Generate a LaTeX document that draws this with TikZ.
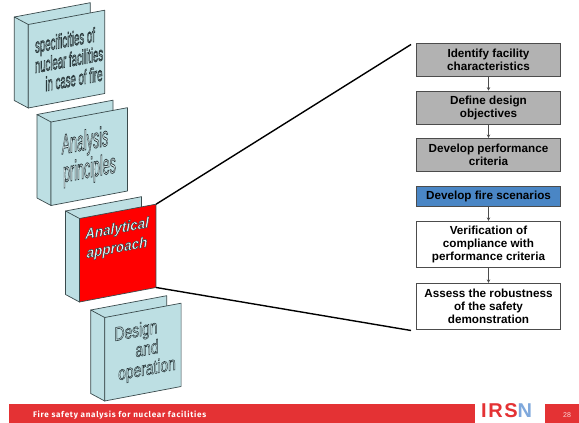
\documentclass[tikz,border=0pt]{standalone}
\usepackage{fontspec}
\usetikzlibrary{arrows.meta}
\setmainfont{Liberation Sans}
\newfontfamily\footfont[LetterSpace=9]{Fira Sans}
\newfontfamily\logofont[LetterSpace=8]{Liberation Sans}
\definecolor{bookfill}{HTML}{BDDFE3}
\definecolor{bookline}{HTML}{3A4A4C}
\definecolor{flowgrey}{HTML}{B2B2B2}
\definecolor{flowblue}{HTML}{4A86C5}
\definecolor{footred}{HTML}{E43234}
\definecolor{irsnblue}{HTML}{7FA8DC}
\newcommand{\outlinetext}[2]{\special{pdf:literal direct 2 Tr #2 w 0.16 0.22 0.23 RG #1 rg}}
\newcommand{\plaintext}{\special{pdf:literal direct 0 Tr}}
\tikzset{
  bookface/.style={draw=bookline,line width=0.7pt,fill=bookfill,line join=round},
  flowbox/.style={draw=black!70,line width=0.8pt,minimum width=143.5pt,inner sep=0pt,align=center,
    font=\fontsize{11.7}{13}\selectfont\bfseries},
  flowarrow/.style={draw=black!70,line width=0.7pt,-{Stealth[length=3.5pt,width=3.5pt]}},
  wordart/.style={align=center,inner sep=0pt,transform shape},
  zoomline/.style={draw=black,line width=1.4pt}
}
\newcommand{\bookshape}[3]{%
  \begin{scope}[shift={(#1,#2)}]
    \path[bookface] (0,0) -- (76,-14.3) -- (76,-2) -- (14,10) -- cycle;
    \path[bookface] (0,0) -- (14,7.5) -- (14,91) -- (0,83.5) -- cycle;
    \path[bookface,fill=#3] (14,7.5) -- (90.4,-6.8) -- (90.4,76.5) -- (14,91) -- cycle;
  \end{scope}}
\begin{document}
\begin{tikzpicture}[x=1pt,y=-1pt]
\useasboundingbox (0,0) rectangle (579,423);
\fill[white] (0,0) rectangle (579,423);
% books
\bookshape{14.3}{17}{bookfill}
\bookshape{37}{114.5}{bookfill}
\bookshape{65.5}{211}{red}
\bookshape{90.7}{310}{bookfill}
% book texts
\node[wordart,cm={1,0.187,0,2.1,(69,59.5)},font=\fontsize{9.6}{9.6}\selectfont] (t1) {\outlinetext{0.80 0.91 0.92}{0.38}specificities of\hspace*{8pt}\\nuclear facilities\\\hspace*{10pt}in case of fire\plaintext};
\node[wordart,cm={1,0.187,0,2.25,(89.5,156)},font=\fontsize{12.5}{12.6}\selectfont] (t2) {\outlinetext{0.90 0.96 0.97}{0.36}Analysis\hspace*{9pt}\\principles\plaintext};
\node[wordart,cm={1,0.187,0,1.1,(117,239)},font=\fontsize{13.5}{17.5}\selectfont\bfseries\itshape] (t3) {\outlinetext{0.90 0.96 0.97}{0.42}Analytical\\approach\plaintext};
\node[wordart,cm={1,0.187,0,1.4,(147,350)},font=\fontsize{13.8}{14.3}\selectfont] (t4) {\outlinetext{0.80 0.91 0.92}{0.42}Design\hspace*{22pt}\\and\hspace*{10pt}\\operation\plaintext};
% flow boxes
\node[flowbox,fill=flowgrey,minimum height=32.7pt] (b1) at (488.5,59.7) {Identify facility\\characteristics};
\node[flowbox,fill=flowgrey,minimum height=33.3pt] (b2) at (488.5,107.7) {Define design\\objectives};
\node[flowbox,fill=flowgrey,minimum height=33.3pt] (b3) at (488.5,155) {Develop performance\\criteria};
\node[flowbox,fill=flowblue,minimum height=20pt] (b4) at (488.5,196) {Develop fire scenarios};
\node[flowbox,fill=white,minimum height=46.4pt] (b5) at (488.5,244.5) {Verification of\\compliance with\\performance criteria};
\node[flowbox,fill=white,minimum height=46pt] (b6) at (488.5,306.3) {Assess the robustness\\of the safety\\demonstration};
\draw[flowarrow] (b1) -- (b2);
\draw[flowarrow] (b2) -- (b3);
\draw[flowarrow] (b4) -- (b5);
\draw[flowarrow] (b5) -- (b6);
% zoom lines
\coordinate (redtop) at (156.1,204.2);
\coordinate (redbot) at (156.1,287.5);
\coordinate (linetop) at (411,44.5);
\coordinate (linebot) at (411,330.5);
\draw[zoomline] (redtop) -- (linetop);
\draw[zoomline] (redbot) -- (linebot);
% footer
\fill[footred] (9,404) rectangle (475,423);
\fill[footred] (545,404) rectangle (579,423);
\node[anchor=west,inner sep=0pt,text=white,font=\footfont\fontsize{8.1}{9}\selectfont\bfseries] (ft) at (33,415.5) {Fire safety analysis for nuclear facilities};
\node[anchor=west,inner sep=0pt,text=footred,font=\logofont\fontsize{20}{20}\selectfont\bfseries] (logo) at (481,410.5) {IRS\textcolor{irsnblue}{N}};
\node[inner sep=0pt,text=white!80!footred,font=\fontsize{7}{8}\selectfont] (pg) at (567,415) {28};
\end{tikzpicture}
\end{document}
